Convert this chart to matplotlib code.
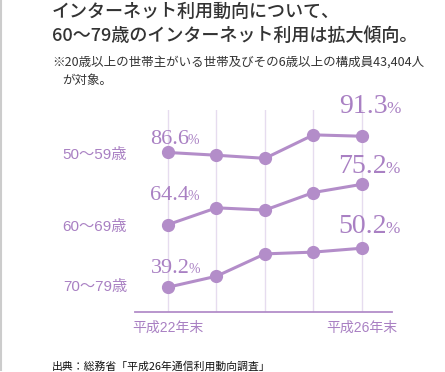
import matplotlib
matplotlib.use("Agg")
import matplotlib.pyplot as plt

# data
years = ["平成22年末", "", "", "", "平成26年末"]
groups = ["50〜59歳", "60〜69歳", "70〜79歳"]
age50 = [86.6, 85.8, 84.9, 91.7, 91.3]
age60 = [64.4, 68.9, 68.3, 73.0, 75.2]
age70 = [39.2, 42.3, 48.6, 49.1, 50.2]
series = [age50, age60, age70]

purple = "#b38dc9"
label_purple = "#a980c3"
grid_col = "#e6dcef"
W, H = 445, 372

plt.rcParams["font.family"] = ["Noto Sans CJK JP", "DejaVu Sans"]
fig = plt.figure(figsize=(W / 100, H / 100), dpi=100)

def px(x, y):
    return x / W, 1 - y / H

# plot area in pixels
left, right, top, bottom = 135, 392, 110, 312
rect = [left / W, 1 - bottom / H, (right - left) / W, (bottom - top) / H]
xlim = (-0.68, 4.62)
# each row has its own vertical range
ylims = [(40.4, 98.9), (41.0, 95.1), (32.2, 89.2)]

base = fig.add_axes(rect)
base.set_xlim(*xlim)
base.set_ylim(0, 1)
for i in range(len(years)):
    base.axvline(i, color=grid_col, lw=1, zorder=0)
base.axhline(0, color=purple, lw=1.3, clip_on=False)
for s in base.spines.values():
    s.set_visible(False)
base.set_yticks([])
base.set_xticks(range(len(years)))
base.set_xticklabels(years, fontsize=10, color=label_purple,
                     family=["Liberation Sans", "Noto Sans CJK JP"])
base.tick_params(axis="x", length=0, pad=6)

for vals, yl in zip(series, ylims):
    ax = fig.add_axes(rect)
    ax.patch.set_alpha(0)
    ax.set_xlim(*xlim)
    ax.set_ylim(*yl)
    ax.plot(range(len(vals)), vals, color=purple, lw=2.2, marker="o",
            ms=8.5, mfc=purple, mec=purple, clip_on=False, zorder=3)
    ax.axis("off")

# row labels
for g, y in zip(groups, [155.5, 227, 287]):
    fig.text(*px(127, y), g, ha="right", va="center", fontsize=11,
             color=label_purple, family=["Liberation Sans", "Noto Sans CJK JP"])

# value labels
serif = ["Liberation Serif", "DejaVu Serif"]
def value_label(x, y, v, big):
    fs = 20 if big else 16
    t = fig.text(*px(x, y), f"{v:.1f}", fontsize=fs, color=label_purple,
                 family=serif, va="baseline")
    fig.canvas.draw()
    bb = t.get_window_extent()
    fig.text((bb.x1 - 1) / W, 1 - y / H, "%", fontsize=fs * 0.62,
             color=label_purple, family=serif, va="baseline")

value_label(150, 144, age50[0], False)
value_label(150, 200, age60[0], False)
value_label(151, 273, age70[0], False)
value_label(339, 113, age50[-1], True)
value_label(338, 173, age60[-1], True)
value_label(338, 233, age70[-1], True)

# titles
fig.text(*px(52, 12), "インターネット利用動向について、", fontsize=13,
         color="#333333", va="center", weight="medium")
fig.text(*px(52, 36), "60〜79歳のインターネット利用は拡大傾向。", fontsize=13,
         color="#333333", va="center", weight="medium")
fig.text(*px(52, 62), "※20歳以上の世帯主がいる世帯及びその6歳以上の構成員43,404人",
         fontsize=9, color="#333333", va="center")
fig.text(*px(62, 80), "が対象。", fontsize=9, color="#333333", va="center")
fig.text(*px(52, 366), "出典：総務省「平成26年通信利用動向調査」", fontsize=7.8,
         color="#111111", va="center")

# left border
fig.add_artist(plt.Line2D([0.5 / W, 0.5 / W], [1 - 370 / H, 1], color="#cccccc",
                          lw=1.5, transform=fig.transFigure))

fig.savefig("out.png", dpi=100)
